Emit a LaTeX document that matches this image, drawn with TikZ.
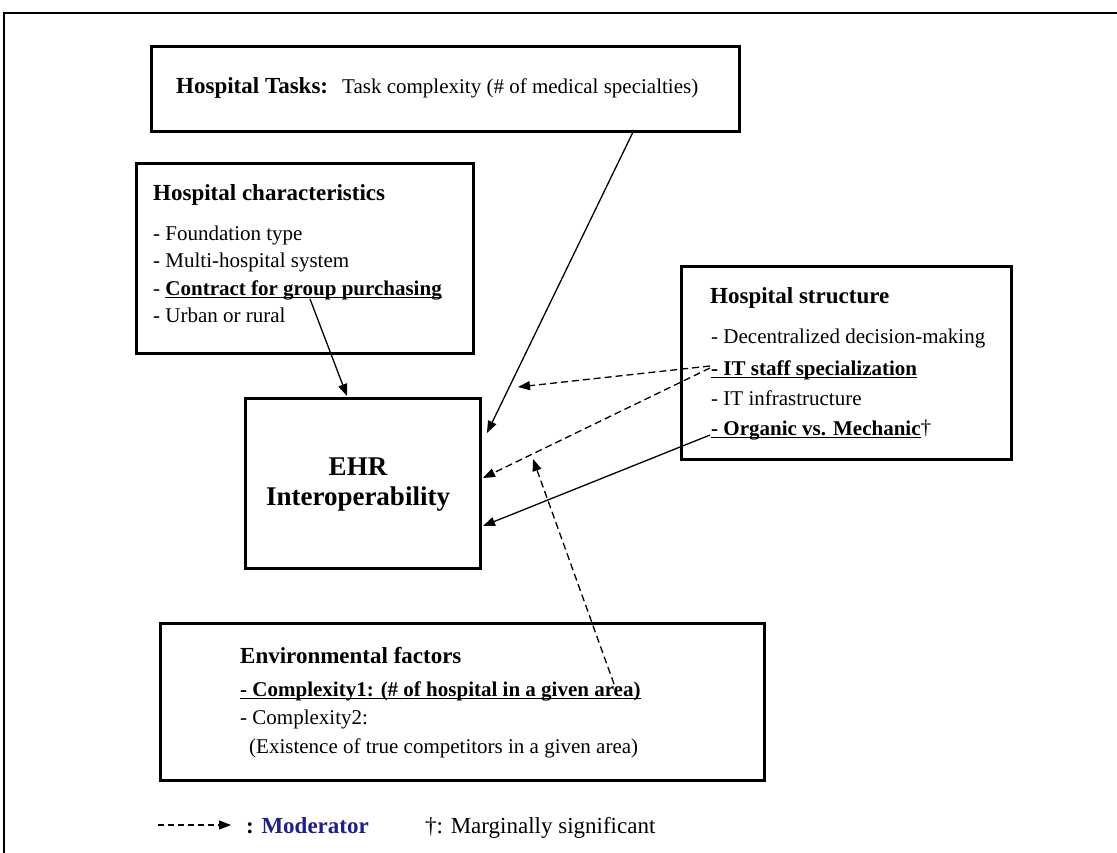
\documentclass[tikz,border=0pt]{standalone}
\usepackage{fontspec}
\setmainfont{Liberation Serif}
\usetikzlibrary{arrows.meta}
\definecolor{modblue}{HTML}{1E1E8C}

% underline set just below the baseline, crossing the descenders
\newsavebox\ulbox
\newcommand{\undl}[1]{\sbox\ulbox{#1}\rlap{\rule[-3.2pt]{\wd\ulbox}{1.5pt}}\usebox\ulbox}

\begin{document}
\begin{tikzpicture}[x=1pt,y=-1pt,
  frame/.style={line width=1.6pt},
  box/.style={draw, line width=2.6pt, inner sep=0pt, anchor=north west},
  item/.style={anchor=base west, inner sep=0pt, font=\fontsize{21}{24}\selectfont},
  head/.style={anchor=base west, inner sep=0pt, font=\fontsize{23}{26}\selectfont\bfseries},
  big/.style={anchor=base, inner sep=0pt, font=\fontsize{27}{30}\selectfont\bfseries},
  link/.style={line width=1.3pt, -{Triangle[length=12pt,width=9pt]}},
  modlink/.style={link, dash pattern=on 7pt off 4pt},
]
\useasboundingbox (0,0) rectangle (1117,853);

% page frame (open to the right and bottom)
\draw[frame] (4,853) -- (4,13) -- (1117,13);

% boxes
\node[box, minimum width=588pt, minimum height=85pt]  (tasks)   at (150,45)  {};
\node[box, minimum width=337pt, minimum height=190pt] (hchar)   at (135,162) {};
\node[box, minimum width=235pt, minimum height=170pt] (ehr)     at (244,397) {};
\node[box, minimum width=330pt, minimum height=193pt] (hstruct) at (680,265) {};
\node[box, minimum width=604pt, minimum height=157pt] (env)     at (159,622) {};

% hospital tasks
\node[head] (tasksT) at (176,94) {Hospital Tasks:};
\node[item] (tasksI) at (342,94) {Task complexity (\# of medical specialties)};

% hospital characteristics
\node[head] (hcharT) at (153,201) {Hospital characteristics};
\node[item] (hc1) at (153,241) {- Foundation type};
\node[item] (hc2) at (153,268) {- Multi-hospital system};
\node[item] (hc3) at (153,295) {- \textbf{\undl{Contract for group purchasing}}};
\node[item] (hc4) at (153,322) {- Urban or rural};

% EHR interoperability
\node[big] (ehrA) at (358,475) {EHR};
\node[big] (ehrB) at (358,505) {Interoperability};

% hospital structure
\node[head] (hstructT) at (710,304) {Hospital structure};
\node[item] (hs1) at (711,343) {- Decentralized decision-making};
\node[item] (hs2) at (711,375) {\textbf{\undl{- IT staff specialization}}};
\node[item] (hs3) at (711,405) {- IT infrastructure};
\node[item] (hs4) at (711,435) {\textbf{\undl{- Organic vs. Mechanic}}\raisebox{1pt}{\dag}};

% environmental factors
\node[head] (envT) at (240,663) {Environmental factors};
\node[item] (env1) at (240,696) {\textbf{\undl{- Complexity1: (\# of hospital in a given area)}}};
\node[item] (env2) at (240,724) {- Complexity2:};
\node[item] (env3) at (249,753) {(Existence of true competitors in a given area)};

% connector ends
\coordinate (a1s) at (634,130);
\coordinate (a1e) at (487,433);
\coordinate (a2s) at (310,299);
\coordinate (a2e) at (347,396);
\coordinate (a3s) at (710,366);
\coordinate (a3e) at (518,387);
\coordinate (a4s) at (710,368);
\coordinate (a4e) at (483,478);
\coordinate (a5s) at (710,435);
\coordinate (a5e) at (483,526);
\coordinate (a6s) at (614,684);
\coordinate (a6e) at (533,459);

% direct effects
\draw[link] (a1s) -- (a1e);
\draw[link] (a2s) -- (a2e);
\draw[link] (a5s) -- (a5e);
% moderating effects
\draw[modlink] (a3s) -- (a3e);
\draw[modlink] (a4s) -- (a4e);
\draw[modlink] (a6s) -- (a6e);

% legend
\coordinate (lg1) at (158,825);
\coordinate (lg2) at (231,825);
\draw[modlink, dash pattern=on 6pt off 4pt] (lg1) -- (lg2);
\node[head] (lgMod) at (246,833) {: \textcolor{modblue}{Moderator}};
\node[anchor=base west, inner sep=0pt, font=\fontsize{23}{26}\selectfont] (lgDag) at (425,833) {\dag: Marginally significant};
\end{tikzpicture}
\end{document}
